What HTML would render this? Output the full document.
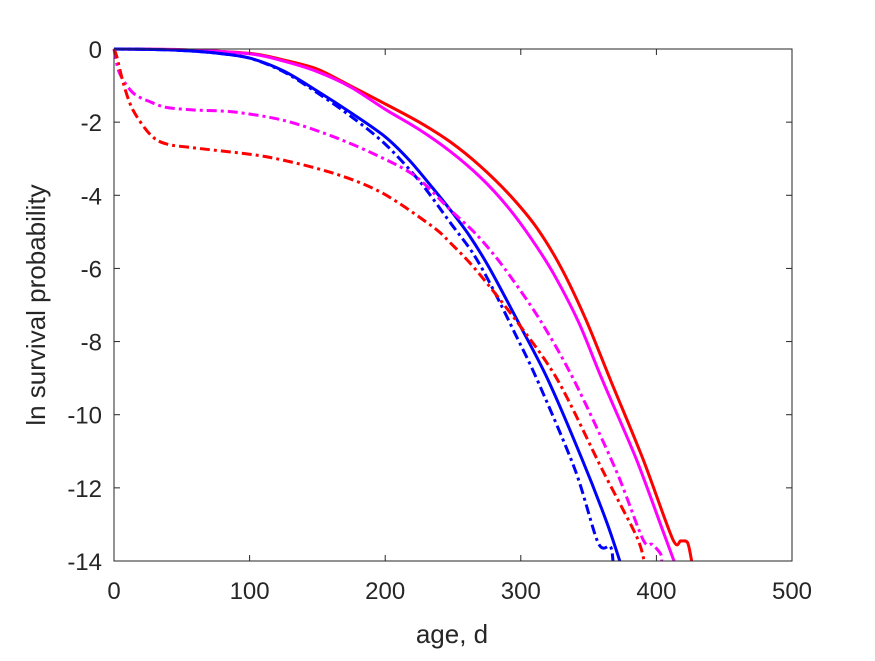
<!DOCTYPE html>
<html><head><meta charset="utf-8"><style>
body{margin:0;background:#fff;}
svg text{font-family:"Liberation Sans",sans-serif;fill:#262626;}
</style></head><body>
<svg id="chart" width="875" height="656" xmlns="http://www.w3.org/2000/svg">
<rect x="0" y="0" width="875" height="656" fill="#fff"/>
<g id="series"></g>
<g id="axes"></g>
<text x="452" y="643" font-size="26" text-anchor="middle">age, d</text>
<text x="0" y="0" font-size="26" text-anchor="middle" transform="translate(45,305) rotate(-90)">ln survival probability</text>
</svg>
<script>
const xTicks=[0,100,200,300,400,500];
const yTicks=[0,-2,-4,-6,-8,-10,-12,-14];
const redSolid=[[0,0],[50,-0.02],[100,-0.12],[125,-0.3],[150,-0.55],[174,-1.0],[200,-1.5],[225,-2.0],[248,-2.54],[270,-3.2],[292,-4],[312,-4.9],[330,-6],[348,-7.4],[366,-9.04],[390,-11.2],[412,-13.4],[418,-13.45],[423,-13.5],[426,-14]];
const magentaSolid=[[0,0],[50,-0.02],[100,-0.13],[125,-0.33],[150,-0.62],[175,-1.05],[200,-1.65],[225,-2.2],[248,-2.8],[270,-3.5],[290,-4.3],[308,-5.2],[325,-6.2],[343,-7.5],[360,-9.04],[385,-11.2],[405,-13.2],[413,-14]];
const blueSolid=[[0,0],[25,-0.01],[50,-0.04],[75,-0.11],[100,-0.25],[125,-0.6],[150,-1.15],[175,-1.75],[200,-2.4],[218,-3.05],[235,-3.8],[248,-4.4],[262,-5.1],[277,-6],[300,-7.6],[320,-9.04],[345,-11.2],[363,-12.9],[373,-14]];
const blueDash=[[0,0],[25,-0.01],[50,-0.04],[75,-0.11],[100,-0.25],[125,-0.62],[150,-1.2],[175,-1.85],[200,-2.6],[225,-3.6],[248,-4.75],[265,-5.6],[280,-6.6],[296,-7.8],[312,-9.04],[340,-11.5],[357,-13.5],[366,-13.6],[368,-14]];
const magentaDash=[[0,0],[4,-0.65],[14,-1.2],[27,-1.45],[39,-1.6],[60,-1.67],[88,-1.72],[125,-1.95],[162,-2.4],[198,-2.98],[223,-3.5],[248,-4.4],[268,-5.1],[288,-6],[314,-7.4],[339,-9.04],[370,-11.5],[390,-13.4],[397,-13.55],[403,-13.8],[404,-14]];
const redDash=[[0,0],[2,-0.2],[7,-0.95],[14,-1.67],[27,-2.35],[39,-2.6],[63,-2.72],[113,-2.95],[162,-3.4],[198,-3.94],[235,-4.86],[248,-5.3],[266,-6],[296,-7.4],[327,-9.04],[360,-11.5],[385,-13.3],[391,-14]];
const X0=114,X1=792,Y0=49,Y1=561;
function sx(v){return X0+(v-0)/(500-0)*(X1-X0);}
function sy(v){return Y0+(0-v)/(0-(-14))*(Y1-Y0);}
const NS="http://www.w3.org/2000/svg";
const sg=document.getElementById('series');
function pathD(pts){
  let d='M'+pts[0][0].toFixed(1)+','+pts[0][1].toFixed(1);
  for(let i=0;i<pts.length-1;i++){
    const p0=pts[Math.max(0,i-1)],p1=pts[i],p2=pts[i+1],p3=pts[Math.min(pts.length-1,i+2)];
    const t=0.15;
    const c1=[p1[0]+(p2[0]-p0[0])*t,p1[1]+(p2[1]-p0[1])*t];
    const c2=[p2[0]-(p3[0]-p1[0])*t,p2[1]-(p3[1]-p1[1])*t];
    d+=' C'+c1[0].toFixed(1)+','+c1[1].toFixed(1)+' '+c2[0].toFixed(1)+','+c2[1].toFixed(1)+' '+p2[0].toFixed(1)+','+p2[1].toFixed(1);
  }
  return d;
}
function draw(data,color,dash,name){
  const p=document.createElementNS(NS,'path');
  p.setAttribute('d',pathD(data.map(d=>[sx(d[0]),sy(d[1])])));
  p.setAttribute('fill','none');p.setAttribute('stroke',color);p.setAttribute('stroke-width','3');
  p.setAttribute('stroke-linejoin','round');
  if(dash)p.setAttribute('stroke-dasharray','10,4,3,4');
  
  
  sg.appendChild(p);
}
draw(redSolid,'#ff0000',false,'line-red-solid');
draw(magentaSolid,'#ff00ff',false,'line-magenta-solid');
draw(blueSolid,'#0000ff',false,'line-blue-solid');
draw(blueDash,'#0000ff',true,'line-blue-dashdot');
draw(magentaDash,'#ff00ff',true,'line-magenta-dashdot');
draw(redDash,'#ff0000',true,'line-red-dashdot');
const ax=document.getElementById('axes');
const box=document.createElementNS(NS,'rect');
box.setAttribute('x',X0);box.setAttribute('y',Y0);box.setAttribute('width',X1-X0);box.setAttribute('height',Y1-Y0);
box.setAttribute('fill','none');box.setAttribute('stroke','#262626');box.setAttribute('stroke-width','1');


ax.appendChild(box);
function line(x1,y1,x2,y2,name){const l=document.createElementNS(NS,'line');l.setAttribute('x1',x1);l.setAttribute('y1',y1);l.setAttribute('x2',x2);l.setAttribute('y2',y2);l.setAttribute('stroke','#262626');


ax.appendChild(l);}
xTicks.forEach(t=>{const x=sx(t);line(x,Y1,x,Y1-6,'x-tick');line(x,Y0,x,Y0+6,'x-tick-top');
 const tx=document.createElementNS(NS,'text');tx.setAttribute('x',x);tx.setAttribute('y',Y1+38);tx.setAttribute('font-size','24');tx.setAttribute('text-anchor','middle');tx.textContent=t;
 
 
 ax.appendChild(tx);});
yTicks.forEach(t=>{const y=sy(t);line(X0,y,X0+6,y,'y-tick');line(X1,y,X1-6,y,'y-tick-right');
 const tx=document.createElementNS(NS,'text');tx.setAttribute('x',X0-12);tx.setAttribute('y',y+9);tx.setAttribute('font-size','24');tx.setAttribute('text-anchor','end');tx.textContent=t;
 
 
 ax.appendChild(tx);});
</script>
</body></html>
